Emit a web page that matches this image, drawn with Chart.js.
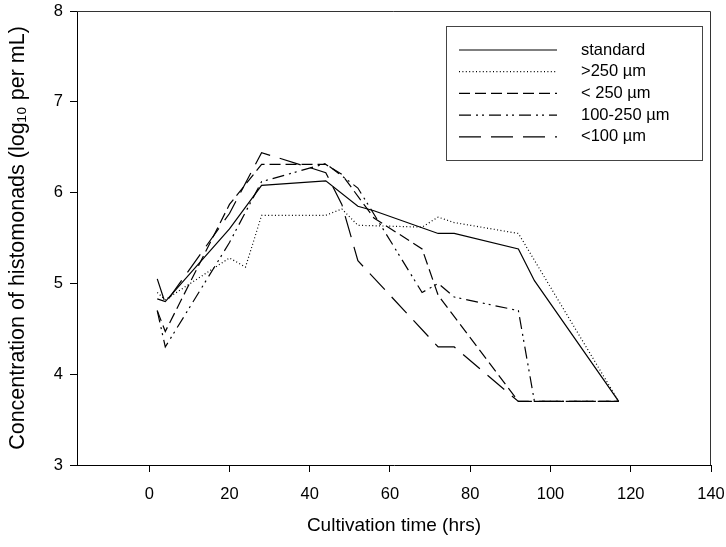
<!DOCTYPE html>
<html>
<head>
<meta charset="utf-8">
<title>Histomonads cultivation</title>
<script src="https://cdn.jsdelivr.net/npm/chart.js@4"></script>
<style>
  html, body { margin: 0; padding: 0; background: #fff; }
  #wrap { width: 726px; height: 547px; }
</style>
</head>
<body>
<div id="wrap"><canvas id="histoChart" width="726" height="547"></canvas></div>
<script>
/* ========================================
   DADOS
   ======================================== */

const seriesNames = ['standard', '>250 µm', '< 250 µm', '100-250 µm', '<100 µm'];

// [time (hrs), log10 per mL]
const standard = [[2, 4.83], [4, 4.8], [20, 5.6], [28, 6.08], [44, 6.13], [52, 5.85], [56, 5.8],
  [72, 5.55], [76, 5.55], [92, 5.38], [96, 5.03], [117, 3.7]];
const above250 = [[2, 4.9], [4, 4.82], [20, 5.28], [24, 5.18], [28, 5.75], [44, 5.75], [48, 5.82],
  [52, 5.64], [68, 5.62], [72, 5.73], [76, 5.67], [92, 5.55], [117, 3.7]];
const below250 = [[2, 4.7], [4, 4.47], [20, 5.87], [28, 6.31], [44, 6.31], [48, 6.2], [56, 5.72],
  [68, 5.38], [72, 4.87], [92, 3.7], [117, 3.7]];
const range100to250 = [[2, 4.7], [4, 4.3], [20, 5.45], [28, 6.12], [44, 6.32], [52, 6.05], [68, 4.9],
  [72, 5.0], [76, 4.85], [92, 4.7], [96, 3.7], [117, 3.7]];
const below100 = [[2, 5.05], [4, 4.78], [20, 5.77], [28, 6.44], [44, 6.22], [48, 5.87], [52, 5.25],
  [72, 4.3], [76, 4.3], [92, 3.7], [117, 3.7]];

const xTicks = [0, 20, 40, 60, 80, 100, 120, 140];
const yTicks = [3, 4, 5, 6, 7, 8];

/* ========================================
   ESTILOS DAS LINHAS
   ======================================== */

const dashes = [
  [],
  [1, 2.4],
  [11, 5],
  [12, 5, 2, 4, 2, 5],
  [22, 10]
];

function toPoints(arr) {
  return arr.map(p => ({ x: p[0], y: p[1] }));
}

/* ========================================
   LEGENDA (caixa desenhada à mão)
   ======================================== */

const boxLegend = {
  id: 'boxLegend',
  afterDraw(chart) {
    const ctx = chart.ctx;
    const area = chart.chartArea;
    ctx.save();

    // moldura superior e direita
    ctx.strokeStyle = '#333';
    ctx.lineWidth = 1;
    ctx.beginPath();
    ctx.moveTo(area.left, area.top + 0.5);
    ctx.lineTo(area.right - 0.5, area.top + 0.5);
    ctx.lineTo(area.right - 0.5, area.bottom);
    ctx.stroke();

    // caixa da legenda
    ctx.strokeStyle = '#444';
    ctx.strokeRect(446.5, 26.5, 256, 134);

    ctx.font = '16.5px "Liberation Sans", Arial, sans-serif';
    ctx.fillStyle = '#000';
    ctx.textBaseline = 'middle';
    chart.data.datasets.forEach((ds, i) => {
      const y = 50 + i * 21.7;
      ctx.strokeStyle = '#000';
      ctx.lineWidth = 1.2;
      ctx.setLineDash(ds.borderDash);
      ctx.beginPath();
      ctx.moveTo(459, y);
      ctx.lineTo(557, y);
      ctx.stroke();
      ctx.setLineDash([]);
      ctx.fillText(ds.label, 581, y);
    });
    ctx.restore();
  }
};

/* ========================================
   GRÁFICO
   ======================================== */

function buildChart() {
  const canvas = document.getElementById('histoChart');
  const allSeries = [standard, above250, below250, range100to250, below100];

  new Chart(canvas, {
    type: 'line',
    data: {
      datasets: allSeries.map((s, i) => ({
        label: seriesNames[i],
        data: toPoints(s),
        borderColor: '#000',
        borderWidth: 1.2,
        borderDash: dashes[i],
        pointRadius: 0,
        tension: 0,
        fill: false
      }))
    },
    options: {
      responsive: false,
      animation: false,
      devicePixelRatio: 1,
      layout: { padding: { top: 11, right: 15, left: 0, bottom: 0 } },
      plugins: {
        legend: { display: false },
        tooltip: { enabled: false }
      },
      scales: {
        x: {
          type: 'linear',
          min: -18,
          max: 140,
          afterBuildTicks: s => { s.ticks = xTicks.map(v => ({ value: v })); },
          afterFit: s => {
            s.height = 82;
            s.paddingLeft = 0;
            s.paddingRight = 0;
          },
          border: { display: true, color: '#000', width: 1 },
          grid: { drawOnChartArea: false, drawTicks: true, tickLength: 7, color: '#000' },
          ticks: {
            color: '#000',
            padding: 13,
            maxRotation: 0,
            font: { family: '"Liberation Sans", Arial', size: 16.5 }
          },
          title: {
            display: true,
            text: 'Cultivation time (hrs)',
            color: '#000',
            padding: { top: 0, bottom: 10 },
            font: { family: '"Liberation Sans", Arial', size: 19 }
          }
        },
        y: {
          type: 'linear',
          min: 3,
          max: 8,
          afterBuildTicks: s => { s.ticks = yTicks.map(v => ({ value: v })); },
          afterFit: s => {
            s.width = 77;
            s.paddingTop = 0;
            s.paddingBottom = 0;
          },
          border: { display: true, color: '#000', width: 1 },
          grid: { drawOnChartArea: false, drawTicks: true, tickLength: 7, color: '#000' },
          ticks: {
            color: '#000',
            padding: 7,
            font: { family: '"Liberation Sans", Arial', size: 16.5 }
          },
          title: {
            display: true,
            text: 'Concentration of histomonads (log₁₀ per mL)',
            color: '#000',
            padding: { top: 5, bottom: 0 },
            font: { family: '"Liberation Sans", Arial', size: 21.5 }
          }
        }
      }
    },
    plugins: [boxLegend]
  });
}

document.addEventListener('DOMContentLoaded', buildChart);
</script>
</body>
</html>
